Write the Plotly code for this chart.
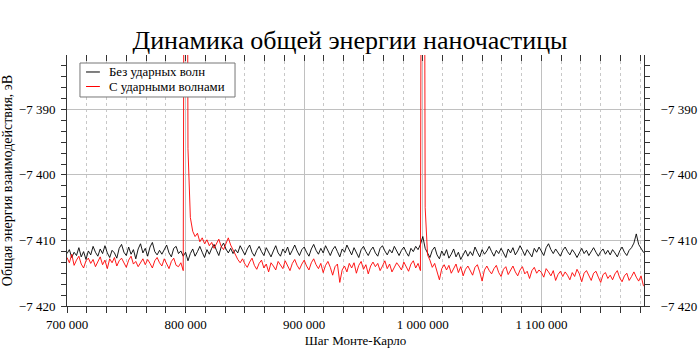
import plotly.graph_objects as go

step_start = 700000
step_size = 2000

black_values = [
    -7412.0,-7411.4,-7412.6,-7411.8,-7412.3,-7411.1,-7412.5,-7411.7,-7412.9,-7411.6,
    -7412.2,-7410.9,-7411.8,-7412.4,-7411.3,-7412.0,-7410.8,-7411.9,-7412.6,-7411.5,
    -7411.9,-7412.7,-7411.2,-7410.6,-7411.8,-7412.3,-7411.0,-7412.1,-7411.4,-7412.8,
    -7411.3,-7410.5,-7411.9,-7411.2,-7412.4,-7411.0,-7410.3,-7411.7,-7412.2,-7411.5,
    -7412.1,-7411.4,-7410.7,-7411.9,-7412.5,-7411.2,-7410.9,-7412.0,-7411.6,-7412.4,
    -7411.8,-7413.1,-7412.0,-7411.3,-7412.4,-7411.7,-7410.9,-7411.8,-7412.6,-7411.4,
    -7412.1,-7411.2,-7410.6,-7411.5,-7412.3,-7411.0,-7410.4,-7411.3,-7411.9,-7411.2,
    -7412.0,-7411.4,-7411.9,-7410.8,-7411.6,-7412.2,-7411.3,-7410.7,-7411.8,-7412.4,
    -7411.5,-7410.9,-7411.7,-7412.3,-7411.1,-7411.8,-7412.5,-7411.6,-7410.8,-7411.9,
    -7412.4,-7411.3,-7411.9,-7411.0,-7412.2,-7411.5,-7410.7,-7411.6,-7412.3,-7411.4,
    -7411.0,-7411.8,-7412.4,-7411.3,-7410.6,-7411.5,-7412.1,-7411.2,-7411.9,-7410.8,
    -7411.6,-7412.3,-7411.4,-7410.9,-7411.7,-7412.5,-7411.3,-7411.8,-7410.7,-7411.5,
    -7412.2,-7411.1,-7411.8,-7412.6,-7411.4,-7410.9,-7411.7,-7412.3,-7411.5,-7411.0,
    -7411.9,-7412.4,-7411.2,-7410.8,-7411.6,-7412.2,-7411.4,-7411.9,-7410.9,-7411.6,
    -7412.3,-7411.5,-7411.0,-7411.8,-7412.4,-7411.2,-7411.7,-7410.9,-7411.4,-7410.6,
    -7409.4,-7411.2,-7411.9,-7412.6,-7411.5,-7411.0,-7412.2,-7412.8,-7411.6,-7412.3,
    -7411.4,-7412.7,-7412.1,-7411.3,-7412.5,-7411.8,-7412.9,-7412.2,-7411.5,-7412.4,
    -7411.7,-7412.3,-7411.0,-7411.8,-7412.5,-7411.4,-7412.1,-7411.6,-7410.9,-7411.7,
    -7412.4,-7411.5,-7412.0,-7411.2,-7411.8,-7412.6,-7411.3,-7411.9,-7411.1,-7412.2,
    -7411.6,-7410.8,-7411.5,-7412.3,-7411.4,-7411.9,-7412.5,-7411.2,-7411.8,-7411.0,
    -7411.7,-7412.3,-7411.1,-7410.5,-7411.4,-7412.0,-7411.3,-7411.8,-7412.4,-7411.5,
    -7411.0,-7411.7,-7412.2,-7411.4,-7411.9,-7412.6,-7411.8,-7411.2,-7412.0,-7411.5,
    -7412.3,-7411.6,-7411.1,-7411.8,-7412.4,-7411.7,-7411.3,-7412.1,-7411.5,-7412.2,
    -7411.4,-7411.9,-7412.5,-7411.6,-7411.0,-7411.8,-7412.3,-7411.5,-7411.1,-7410.4,
    -7409.0,-7410.6,-7411.3,-7411.8,-7412.1,
]

red_values = [
    -7412.6,-7413.4,-7412.1,-7413.8,-7413.0,-7412.4,-7413.6,-7414.2,-7413.1,-7412.7,
    -7413.5,-7412.9,-7414.0,-7413.2,-7412.5,-7413.7,-7413.0,-7414.3,-7412.8,-7413.4,
    -7412.6,-7413.9,-7413.1,-7412.7,-7413.5,-7414.1,-7413.0,-7412.4,-7413.6,-7413.2,
    -7414.0,-7413.3,-7412.8,-7413.7,-7412.9,-7413.5,-7414.2,-7413.1,-7412.6,-7413.4,
    -7413.9,-7412.8,-7413.5,-7414.3,-7413.2,-7412.7,-7413.8,-7414.0,-7413.4,-7414.6,
    -7250.0,
    -7396.0,-7406.5,-7408.6,-7409.4,-7408.9,-7410.2,-7409.6,-7410.5,-7409.9,
    -7410.8,-7410.3,-7411.2,-7410.6,-7409.8,-7410.9,-7411.4,-7410.5,-7409.6,-7410.7,
    -7411.5,-7412.3,-7412.9,-7413.4,-7412.8,-7413.6,-7414.1,-7413.3,-7412.7,-7413.8,
    -7414.4,-7413.5,-7413.0,-7414.2,-7413.6,-7414.8,-7413.4,-7413.9,-7414.5,-7413.2,
    -7413.7,-7414.3,-7413.1,-7413.8,-7414.6,-7413.5,-7412.9,-7413.8,-7414.4,-7413.6,
    -7413.0,-7413.9,-7414.5,-7413.4,-7412.8,-7413.7,-7414.3,-7413.5,-7414.9,-7413.8,
    -7413.2,-7414.1,-7415.3,-7414.0,-7413.6,-7416.4,-7414.5,-7413.9,-7414.8,-7413.5,
    -7414.2,-7413.4,-7415.0,-7413.8,-7413.2,-7414.4,-7413.7,-7415.1,-7413.9,-7413.3,
    -7414.0,-7413.5,-7414.6,-7413.9,-7413.1,-7414.3,-7413.6,-7414.8,-7414.1,-7413.4,
    -7413.9,-7414.5,-7413.3,-7414.0,-7414.7,-7413.6,-7413.1,-7414.2,-7413.5,-7414.6,
    -7250.0,
    -7405.0,-7412.2,-7413.0,-7414.1,-7413.5,-7414.6,-7416.0,-7414.3,-7413.7,
    -7414.5,-7413.8,-7415.0,-7414.2,-7413.6,-7414.9,-7414.0,-7415.4,-7414.4,-7413.9,
    -7414.7,-7415.3,-7414.1,-7413.7,-7414.8,-7416.2,-7414.5,-7413.9,-7414.6,-7415.1,
    -7414.3,-7413.8,-7414.9,-7415.5,-7414.4,-7414.0,-7415.2,-7414.6,-7413.9,-7414.8,
    -7415.4,-7414.5,-7414.0,-7415.1,-7414.7,-7415.8,-7414.6,-7414.1,-7415.0,-7414.5,
    -7414.9,-7415.6,-7414.3,-7414.8,-7415.4,-7414.6,-7416.1,-7415.2,-7414.7,-7415.5,
    -7414.8,-7415.3,-7416.0,-7414.9,-7415.5,-7414.4,-7415.1,-7416.3,-7415.0,-7414.6,
    -7415.4,-7416.1,-7415.0,-7414.7,-7415.6,-7416.4,-7415.2,-7414.9,-7415.8,-7415.3,
    -7416.0,-7415.1,-7414.6,-7415.7,-7416.3,-7415.4,-7415.0,-7416.1,-7415.5,-7414.8,
    -7415.6,-7416.2,-7415.4,-7416.9,-7417.1,
]

steps_black = [step_start + i * step_size for i in range(len(black_values))]
steps_red = [step_start + i * step_size for i in range(len(red_values))]

title_text = "Динамика общей энергии наночастицы"
x_title = "Шаг Монте-Карло"
y_title = "Общая энергия взаимодействия, эВ"
name_black = "Без ударных волн"
name_red = "С ударными волнами"

x_range = [700000, 1186500]
y_range = [-7420, -7381.7]

FONT = "Liberation Serif"
TICKFONT = dict(family=FONT, size=13, color="black")

fig = go.Figure()
fig.add_trace(go.Scatter(x=steps_black, y=black_values, mode="lines", name=name_black,
                         line=dict(color="black", width=0.9), showlegend=False))
fig.add_trace(go.Scatter(x=steps_red, y=red_values, mode="lines", name=name_red,
                         line=dict(color="#ff0000", width=0.9), showlegend=False))
# transparent copy on the mirrored (top / right) axes so they get drawn with labels
fig.add_trace(go.Scatter(x=steps_black, y=black_values, mode="lines", xaxis="x2", yaxis="y2",
                         line=dict(color="rgba(0,0,0,0)", width=0), showlegend=False,
                         hoverinfo="skip"))

common_x = dict(range=x_range, tick0=700000, dtick=100000, ticklen=6, automargin=False,
                tickcolor="#333", tickformat=",d", tickfont=TICKFONT)
common_y = dict(range=y_range, tick0=-7420, dtick=10, ticks="outside", ticklen=5,
                automargin=False, tickcolor="#333", tickformat=",d", tickfont=TICKFONT)

# custom compact legend (plot-area fractions)
lx0, lx1 = 0.0225, 0.2912
ly0, ly1 = 0.8327, 0.9681
row1, row2 = 0.9323, 0.8745
shapes = [
    dict(type="rect", xref="paper", yref="paper", x0=lx0, x1=lx1, y0=ly0, y1=ly1,
         line=dict(color="#777", width=1), fillcolor="white", layer="above"),
    dict(type="line", xref="paper", yref="paper", x0=0.033, x1=0.057, y0=row1, y1=row1,
         line=dict(color="black", width=1), layer="above"),
    dict(type="line", xref="paper", yref="paper", x0=0.033, x1=0.057, y0=row2, y1=row2,
         line=dict(color="#ff0000", width=1), layer="above"),
]
annotations = [
    dict(text=name_black, xref="paper", yref="paper", x=0.0715, y=row1, xanchor="left",
         yanchor="middle", showarrow=False, borderpad=0,
         font=dict(family=FONT, size=12.8, color="black")),
    dict(text=name_red, xref="paper", yref="paper", x=0.0715, y=row2, xanchor="left",
         yanchor="middle", showarrow=False, borderpad=0,
         font=dict(family=FONT, size=12.8, color="black")),
]

fig.update_layout(
    width=700, height=349,
    margin=dict(l=67, r=56, t=55, b=43),
    paper_bgcolor="white", plot_bgcolor="white",
    separators=". ",
    font=dict(family=FONT, size=13, color="black"),
    title=dict(text=title_text, x=0.5, xanchor="center", y=1 - 40 / 349, yanchor="middle",
               font=dict(family=FONT, size=26, color="black")),
    showlegend=False,
    shapes=shapes,
    annotations=annotations,
    xaxis=dict(**common_x, ticks="outside", ticklabelstandoff=0,
               showline=True, linecolor="#333", linewidth=1,
               showgrid=True, gridcolor="#c0c0c0", gridwidth=1, zeroline=False,
               title=dict(text=x_title, font=dict(family=FONT, size=13), standoff=5),
               minor=dict(tick0=700000, dtick=100000 / 6, ticks="outside", ticklen=6,
                          tickcolor="#333", showgrid=True, gridcolor="#c8c8c8",
                          griddash="dot", gridwidth=1)),
    xaxis2=dict(**common_x, ticks="inside", overlaying="x", side="top", matches="x",
                showline=False, showticklabels=False, showgrid=False, zeroline=False,
                minor=dict(tick0=700000, dtick=100000 / 6, ticks="inside", ticklen=6,
                           tickcolor="#333", showgrid=False)),
    yaxis=dict(**common_y, ticklabelstandoff=3, showline=True, linecolor="#333", linewidth=1,
               showgrid=True, gridcolor="#c0c0c0", gridwidth=1, zeroline=False,
               title=dict(text=y_title, font=dict(family=FONT, size=14), standoff=5),
               minor=dict(tick0=-7420, dtick=10 / 6, ticks="outside", ticklen=5,
                          tickcolor="#333", showgrid=False)),
    yaxis2=dict(**common_y, ticklabelstandoff=8, overlaying="y", side="right", matches="y",
                showline=True, linecolor="#333", linewidth=1, showgrid=False, zeroline=False,
                minor=dict(tick0=-7420, dtick=10 / 6, ticks="outside", ticklen=5,
                           tickcolor="#333", showgrid=False)),
)

fig.write_html("out.html")
